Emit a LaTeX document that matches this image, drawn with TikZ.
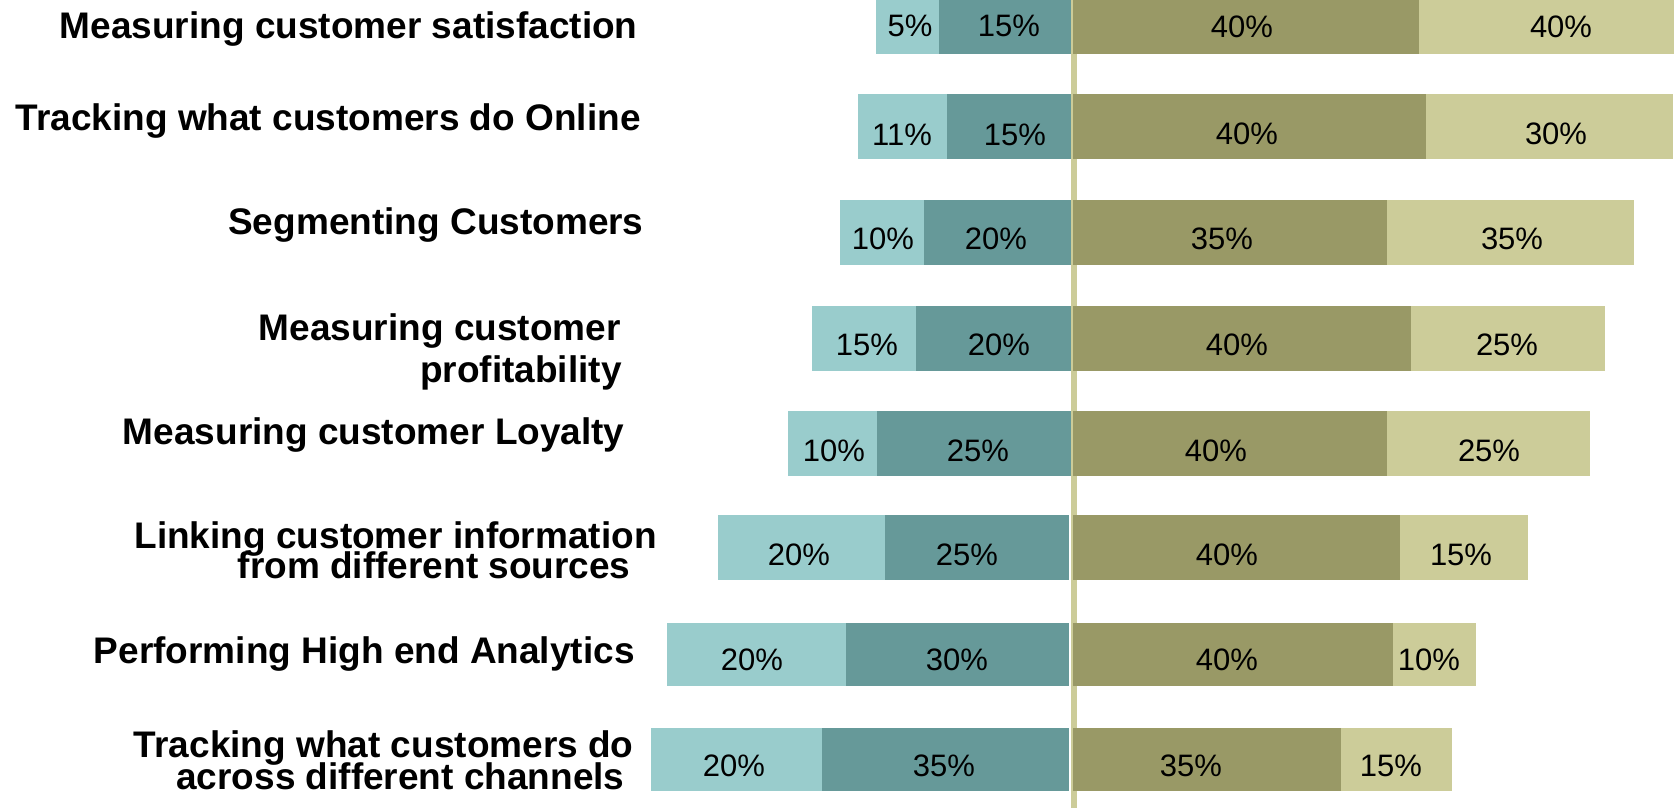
\documentclass[tikz,border=0pt]{standalone}
\usepackage{fontspec}
\setmainfont{Liberation Sans}
\definecolor{ltteal}{HTML}{99CCCC}
\definecolor{dkteal}{HTML}{669999}
\definecolor{dkolive}{HTML}{999966}
\definecolor{ltolive}{HTML}{CCCC99}
\begin{document}
\begin{tikzpicture}[x=0.5pt,y=-0.5pt,
  cat/.style={anchor=base east,inner sep=0pt,font=\fontsize{18.5}{20}\selectfont\bfseries},
  pct/.style={anchor=base,inner sep=0pt,font=\fontsize{15.5}{17}\selectfont},
  segA/.style={fill=ltteal},
  segB/.style={fill=dkteal},
  segC/.style={fill=dkolive},
  segD/.style={fill=ltolive},
  axisline/.style={fill=ltolive}]
\useasboundingbox (0,0) rectangle (1674,808);
% central axis
\fill[axisline] (1071,0) rectangle (1077,808);
% bars
\foreach \yt/\yb/\xa/\xb/\xc/\xs/\xr in {
  0/54/876/939/1071/1419/1674,
  94/159/858/947/1071/1426/1673,
  200/265/840/924/1071/1387/1634,
  306/371/812/916/1071/1411/1605,
  411/476/788/877/1071/1387/1590,
  515/580/718/885/1069/1400/1528,
  623/686/667/846/1069/1393/1476,
  728/791/651/822/1069/1341/1452}{
  \fill[segA] (\xa,\yt) rectangle (\xb,\yb);
  \fill[segB] (\xb,\yt) rectangle (\xc,\yb);
  \fill[segC] (1073,\yt) rectangle (\xs,\yb);
  \fill[segD] (\xs,\yt) rectangle (\xr,\yb);
}
% category labels
\node[cat] (c1) at (638,39) {Measuring customer satisfaction};
\node[cat] (c2) at (641,130) {Tracking what customers do Online};
\node[cat] (c3) at (644,234) {Segmenting Customers};
\node[cat] (c4a) at (621,340) {Measuring customer};
\node[cat] (c4b) at (622,382) {profitability};
\node[cat] (c5) at (625,444) {Measuring customer Loyalty};
\node[cat] (c6a) at (657,548) {Linking customer information};
\node[cat] (c6b) at (631,578) {from different sources};
\node[cat] (c7) at (635,663) {Performing High end Analytics};
\node[cat] (c8a) at (634,757) {Tracking what customers do};
\node[cat] (c8b) at (625,789) {across different channels};
% percentage labels
\node[pct] (p1a) at (910,37) {5\%};
\node[pct] (p1b) at (1009,37) {15\%};
\node[pct] (p1c) at (1242,38) {40\%};
\node[pct] (p1d) at (1561,38) {40\%};
\node[pct] (p2a) at (902,145) {11\%};
\node[pct] (p2b) at (1015,145) {15\%};
\node[pct] (p2c) at (1247,144) {40\%};
\node[pct] (p2d) at (1556,144) {30\%};
\node[pct] (p3a) at (883,249) {10\%};
\node[pct] (p3b) at (996,249) {20\%};
\node[pct] (p3c) at (1222,249) {35\%};
\node[pct] (p3d) at (1512,249) {35\%};
\node[pct] (p4a) at (867,355) {15\%};
\node[pct] (p4b) at (999,355) {20\%};
\node[pct] (p4c) at (1237,355) {40\%};
\node[pct] (p4d) at (1507,355) {25\%};
\node[pct] (p5a) at (834,461) {10\%};
\node[pct] (p5b) at (978,461) {25\%};
\node[pct] (p5c) at (1216,461) {40\%};
\node[pct] (p5d) at (1489,461) {25\%};
\node[pct] (p6a) at (799,565) {20\%};
\node[pct] (p6b) at (967,565) {25\%};
\node[pct] (p6c) at (1227,565) {40\%};
\node[pct] (p6d) at (1461,565) {15\%};
\node[pct] (p7a) at (752,670) {20\%};
\node[pct] (p7b) at (957,670) {30\%};
\node[pct] (p7c) at (1227,670) {40\%};
\node[pct] (p7d) at (1429,670) {10\%};
\node[pct] (p8a) at (734,776) {20\%};
\node[pct] (p8b) at (944,776) {35\%};
\node[pct] (p8c) at (1191,776) {35\%};
\node[pct] (p8d) at (1391,776) {15\%};
\end{tikzpicture}
\end{document}
